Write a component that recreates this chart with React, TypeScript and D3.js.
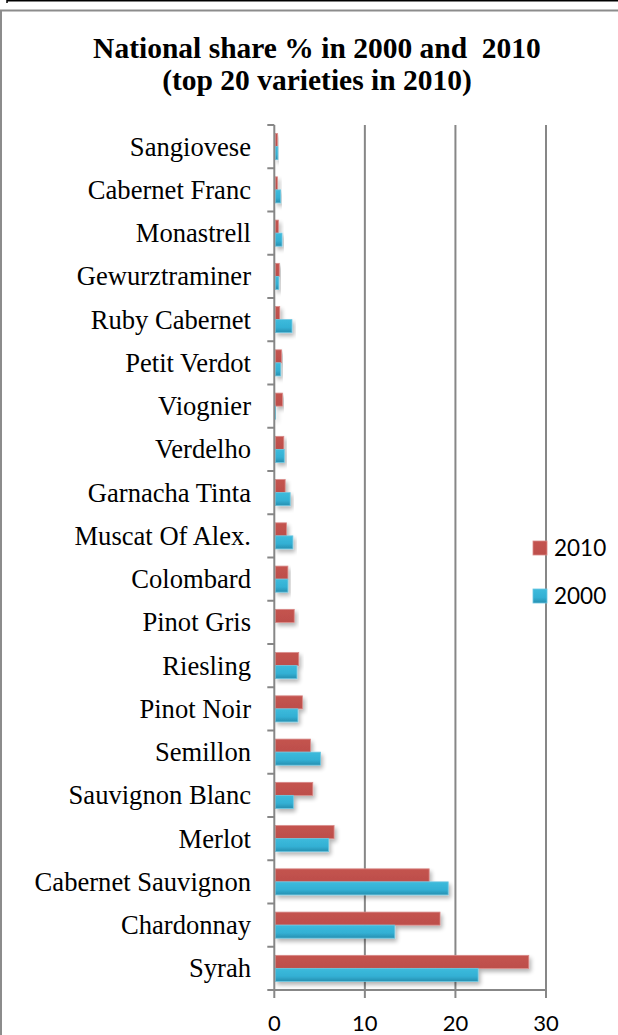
import React from "react";
import * as d3 from "d3";

const categories = [
  "Sangiovese", "Cabernet Franc", "Monastrell", "Gewurztraminer", "Ruby Cabernet",
  "Petit Verdot", "Viognier", "Verdelho", "Garnacha Tinta", "Muscat Of Alex.",
  "Colombard", "Pinot Gris", "Riesling", "Pinot Noir", "Semillon",
  "Sauvignon Blanc", "Merlot", "Cabernet Sauvignon", "Chardonnay", "Syrah",
];
const values2010 = [0.35, 0.35, 0.45, 0.55, 0.6, 0.8, 0.9, 1.05, 1.2, 1.35, 1.5, 2.2, 2.7, 3.1, 4.0, 4.25, 6.6, 17.1, 18.3, 28.1];
const values2000 = [0.4, 0.7, 0.85, 0.5, 1.95, 0.7, 0.15, 1.1, 1.75, 2.05, 1.5, 0, 2.5, 2.6, 5.1, 2.1, 6.0, 19.2, 13.3, 22.5];
const seriesNames = ["2010", "2000"];
const xTicks = [0, 10, 20, 30];
const titleLines = ["National share % in 2000 and  2010", "(top 20 varieties in 2010)"];

const W = 618;
const H = 1035;
const plotLeft = 274.3;
const plotRight = 546;
const plotTop = 125;
const plotBottom = 990;

export default function App() {
  const x = d3.scaleLinear().domain([0, 30]).range([plotLeft, plotRight]);
  const y = d3.scaleBand<string>().domain(categories).range([plotTop, plotBottom]).padding(0);
  const ys = d3.scaleBand<string>().domain(seriesNames).range([0, y.bandwidth()]).paddingInner(0).paddingOuter(0.66);
  const seriesValues: Record<string, number[]> = { "2010": values2010, "2000": values2000 };
  const fills: Record<string, string> = { "2010": "url(#gRed)", "2000": "url(#gBlue)" };
  const strokes: Record<string, string> = { "2010": "#d98a88", "2000": "#6cc6e0" };
  const grid = "#878787";
  const serif = "'Liberation Serif', 'Times New Roman', serif";
  const sans = "Lato, 'Open Sans', sans-serif";

  return (
    <svg width={W} height={H} style={{ position: "absolute", left: 0, top: 0, background: "#fff" }}>
      <defs>
        <linearGradient id="gBlue" x1="0" y1="0" x2="0" y2="1">
          <stop offset="0" stopColor="#3dbbdc" />
          <stop offset="0.6" stopColor="#33b0d4" />
          <stop offset="1" stopColor="#278fb0" />
        </linearGradient>
        <linearGradient id="gRed" x1="0" y1="0" x2="0" y2="1">
          <stop offset="0" stopColor="#c4534f" />
          <stop offset="1" stopColor="#bd4f4b" />
        </linearGradient>
        <filter id="shadow" x="-20%" y="-50%" width="140%" height="250%">
          <feGaussianBlur in="SourceAlpha" stdDeviation="2" />
          <feOffset dx="2" dy="3" result="o" />
          <feComponentTransfer><feFuncA type="linear" slope="0.3" /></feComponentTransfer>
          <feMerge><feMergeNode /><feMergeNode in="SourceGraphic" /></feMerge>
        </filter>
      </defs>
      {/* frame */}
      <line x1={7} y1={0.75} x2={W} y2={0.75} stroke="#000" strokeWidth={1.5} />
      <line x1={7} y1={0} x2={7} y2={3} stroke="#000" strokeWidth={1.5} />
      <line x1={0} y1={10.5} x2={W} y2={10.5} stroke="#8c8c8c" strokeWidth={2} />
      <line x1={1} y1={10} x2={1} y2={H} stroke="#8c8c8c" strokeWidth={2} />

      {/* title */}
      <text x={317} fontFamily={serif} fontWeight="bold" fontSize={29.5} textAnchor="middle" fill="#000"
        style={{ whiteSpace: "pre" }}>
        <tspan x={317} y={58}>{titleLines[0]}</tspan>
        <tspan x={317} y={90}>{titleLines[1]}</tspan>
      </text>

      {/* gridlines */}
      {xTicks.filter((t) => t > 0).map((t) => (
        <line key={"g" + t} x1={x(t)} x2={x(t)} y1={plotTop} y2={plotBottom + 8} stroke={grid} strokeWidth={2} />
      ))}

      {/* bars */}
      {categories.map((c, i) => (
        <g key={c} filter="url(#shadow)">
          {seriesNames.map((s) => {
            const v = seriesValues[s][i];
            if (!v) return null;
            const y0 = (y(c) as number) + (ys(s) as number);
            return (
              <rect key={s} x={x(0) + 1} y={y0} width={x(v) - x(0) - 1} height={ys.bandwidth()}
                fill={fills[s]} stroke={strokes[s]} strokeWidth={0.8} />
            );
          })}
        </g>
      ))}

      {/* axes */}
      <line x1={x(0)} x2={x(0)} y1={plotTop} y2={plotBottom + 8} stroke={grid} strokeWidth={2} />
      <line x1={x(0) - 7} x2={plotRight + 1} y1={plotBottom} y2={plotBottom} stroke={grid} strokeWidth={2} />
      {categories.map((c) => (
        <line key={"t" + c} x1={x(0) - 7} x2={x(0)} y1={y(c) as number} y2={y(c) as number} stroke={grid} strokeWidth={2} />
      ))}
      {xTicks.map((t) => (
        <text key={"xl" + t} x={x(t)} y={1031} textAnchor="middle" fontFamily={sans} fontSize={22} fill="#000">{t}</text>
      ))}

      {/* category labels */}
      {categories.map((c) => (
        <text key={"l" + c} x={251} y={(y(c) as number) + y.bandwidth() / 2 + 9} textAnchor="end"
          fontFamily={serif} fontSize={26.6} fill="#000">{c}</text>
      ))}

      {/* legend */}
      {seriesNames.map((s, i) => (
        <g key={"lg" + s} transform={`translate(533, ${541 + i * 48})`}>
          <rect x={0} y={0} width={14} height={14} fill={fills[s]} stroke={strokes[s]} strokeWidth={0.8} />
          <text x={21} y={14.5} fontFamily={sans} fontSize={22.5} fill="#000">{s}</text>
        </g>
      ))}
    </svg>
  );
}
